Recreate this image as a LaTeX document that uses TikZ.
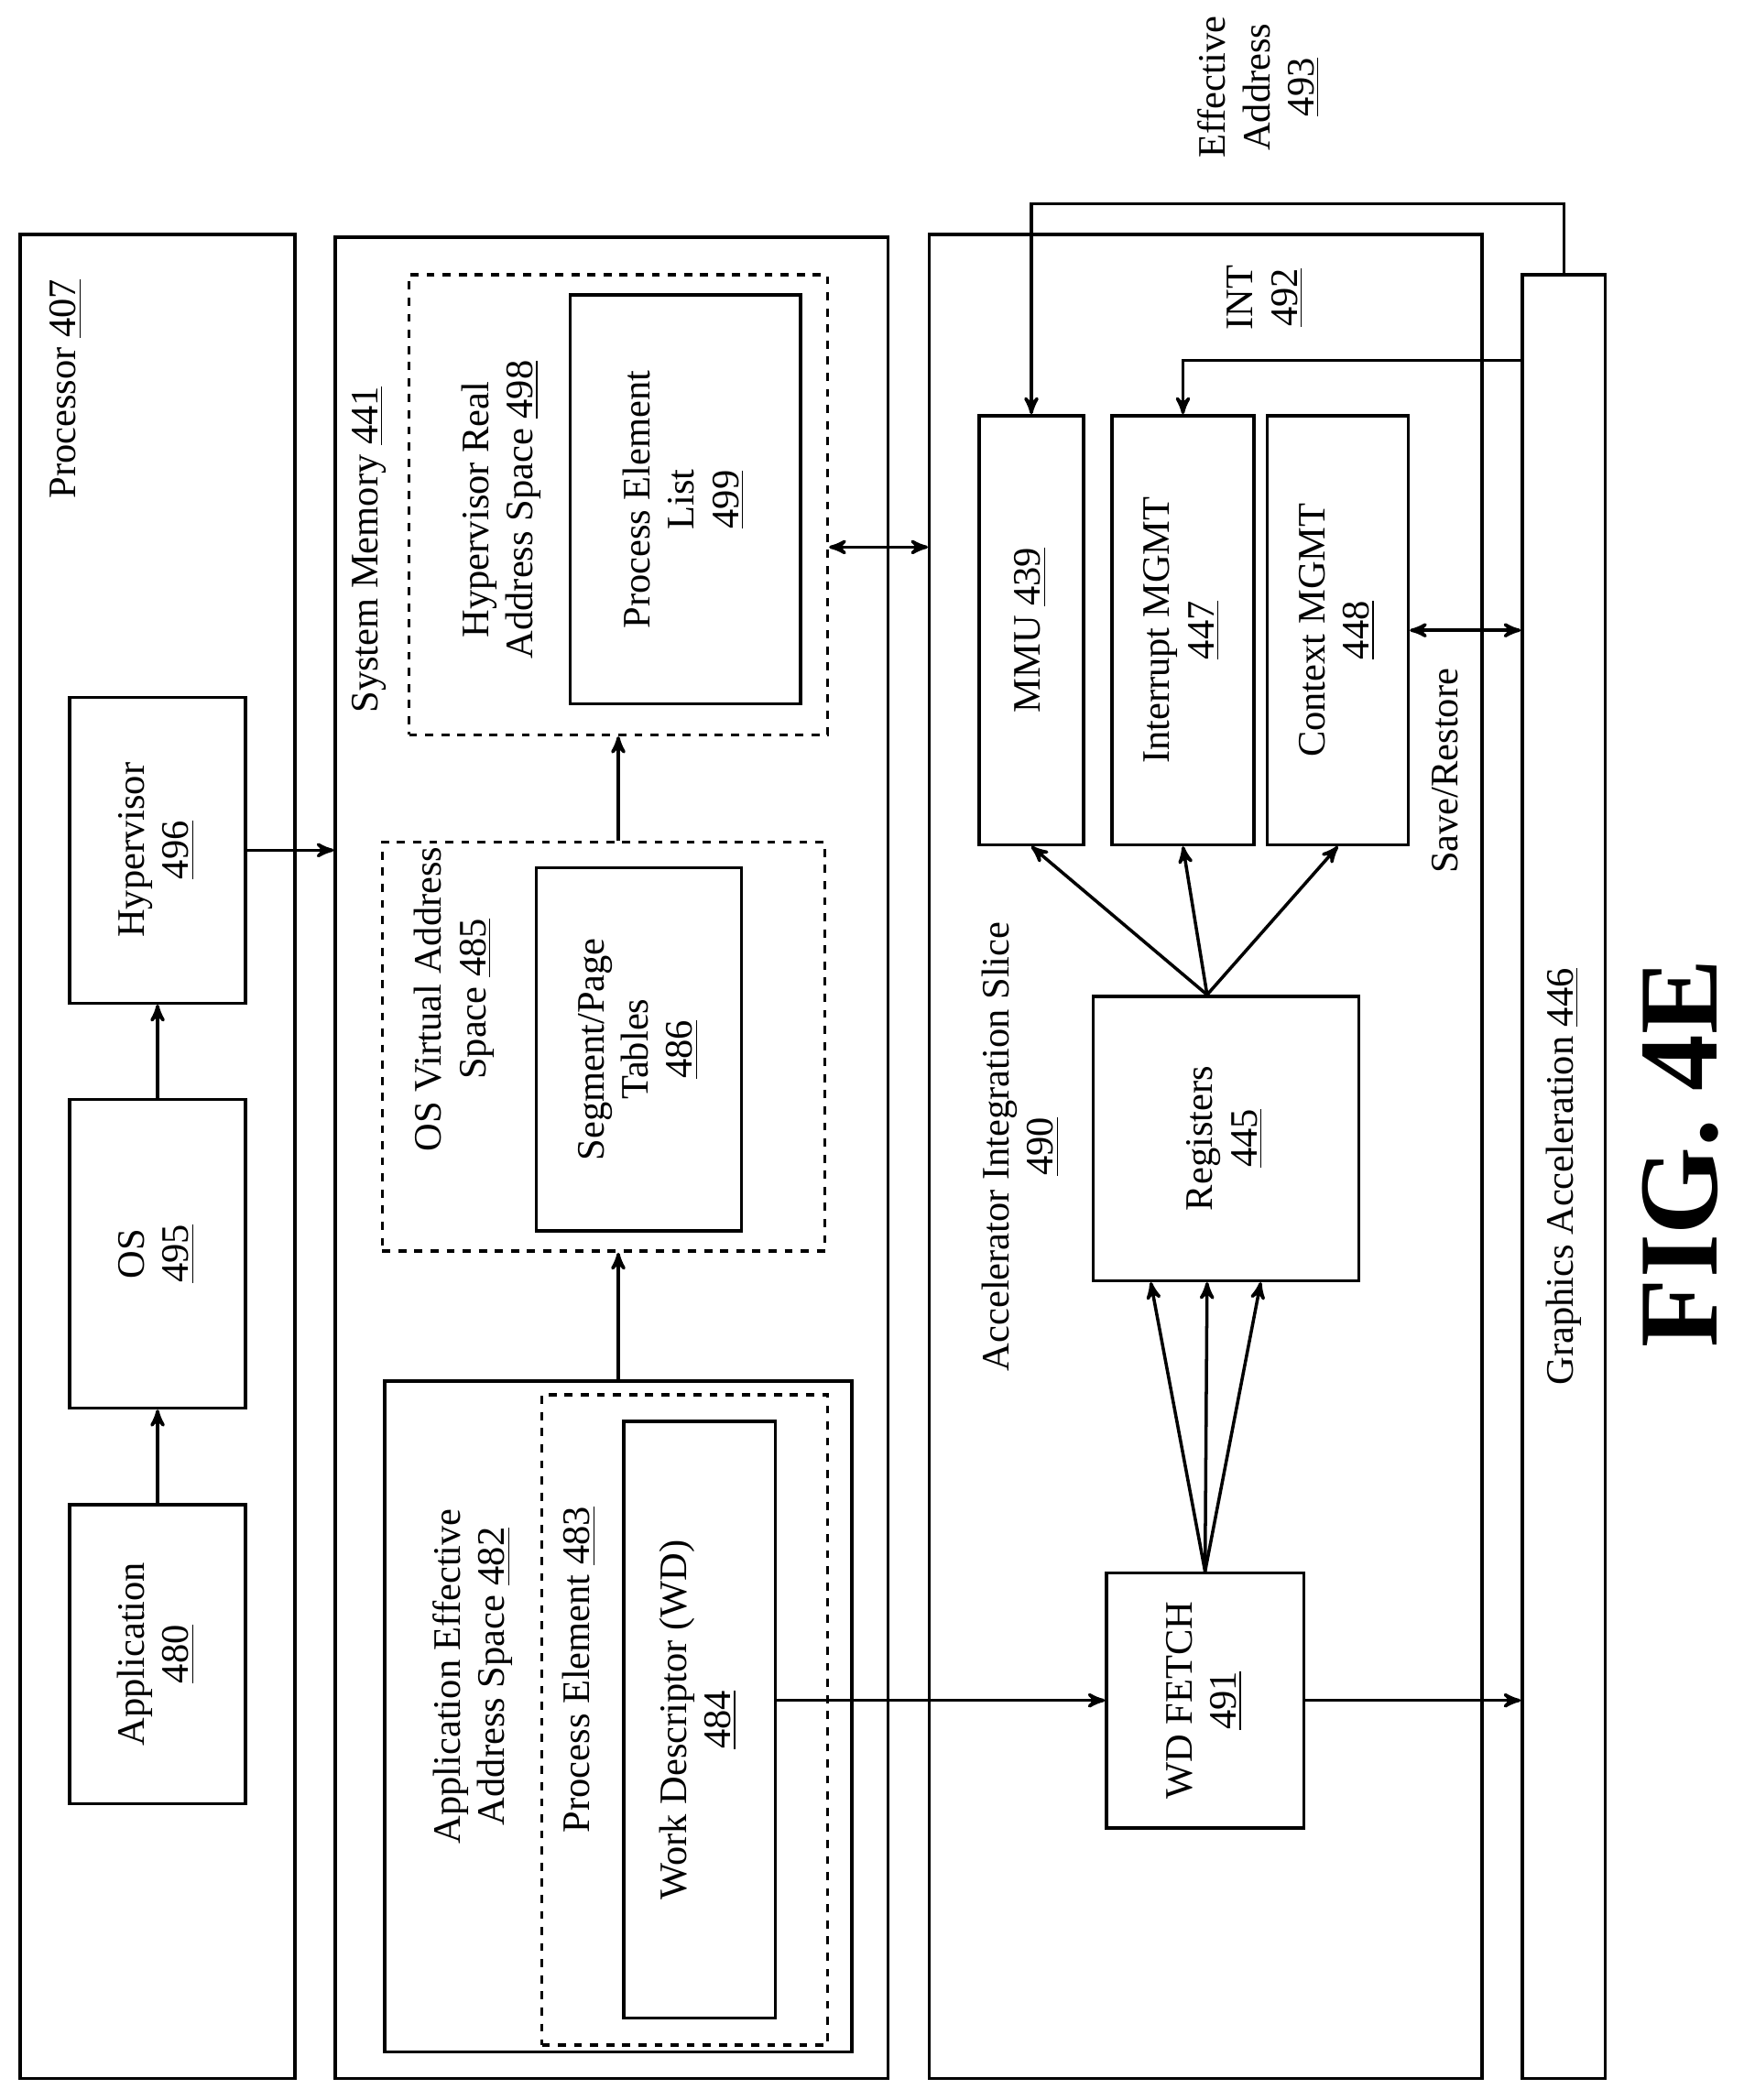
\documentclass[tikz,border=0pt]{standalone}
\usepackage{fontspec}
\setmainfont{Liberation Serif}
\usetikzlibrary{arrows,calc}
\newcommand{\rt}[1]{\rotatebox{90}{\begin{tabular}{@{}c@{}}#1\end{tabular}}}
\begin{document}
\begin{tikzpicture}[x=0.5pt, y=-0.5pt, >=stealth', line width=1.2pt, font=\fontsize{14.5}{16.5}\selectfont,
  box/.style={draw, rectangle, inner sep=0pt},
  dbox/.style={draw, rectangle, dashed, inner sep=0pt},
  lbl/.style={inner sep=0pt}]
\useasboundingbox (0,0) rectangle (1300,1566);
% processor
\node[box, minimum width=102.5pt, minimum height=687.5pt] (proc) at (117.5,862.5) {};
\node[lbl] (proclbl) at (50,290) {\rt{Processor \underline{407}}};
\node[box, minimum width=65.5pt, minimum height=111.5pt] (app) at (117.5,1233.5) {\rt{Application\\\underline{480}}};
\node[box, minimum width=65.5pt, minimum height=115pt] (os) at (117.5,935) {\rt{OS\\\underline{495}}};
\node[box, minimum width=65.5pt, minimum height=114pt] (hyp) at (117.5,634) {\rt{Hypervisor\\\underline{496}}};
% system memory
\node[box, minimum width=206pt, minimum height=686.5pt] (mem) at (456,863.5) {};
\node[lbl] (memlbl) at (275,410) {\rt{System Memory \underline{441}}};
\node[dbox, minimum width=156pt, minimum height=171.5pt] (hrs) at (461,376.5) {};
\node[lbl] (hrslbl) at (374,380) {\rt{Hypervisor Real\\Address Space \underline{498}}};
\node[box, minimum width=86pt, minimum height=152.5pt] (pel) at (511,372.5) {\rt{Process Element\\List\\\underline{499}}};
\node[dbox, minimum width=165pt, minimum height=152.5pt] (osv) at (450,780.5) {};
\node[lbl] (osvlbl) at (339,745) {\rt{OS Virtual Address\\Space \underline{485}}};
\node[box, minimum width=76.5pt, minimum height=135.5pt] (seg) at (476.5,782.5) {\rt{Segment/Page\\Tables\\\underline{486}}};
\node[box, minimum width=174pt, minimum height=250pt] (aes) at (461,1280) {};
\node[lbl] (aeslbl) at (353,1250) {\rt{Application Effective\\Address Space \underline{482}}};
\node[dbox, minimum width=106.5pt, minimum height=242.5pt] (pe) at (510.5,1282.5) {};
\node[lbl] (pelbl) at (433,1245) {\rt{Process Element \underline{483}}};
\node[box, minimum width=56.5pt, minimum height=222.5pt] (wd) at (521.5,1282.5) {\rt{Work Descriptor (WD)\\\underline{484}}};
% accelerator integration slice
\node[box, minimum width=206pt, minimum height=687.5pt] (ais) at (899,862.5) {};
\node[lbl] (aislbl) at (762,855) {\rt{Accelerator Integration Slice\\\underline{490}}};
\node[box, minimum width=39pt, minimum height=160pt] (mmu) at (769,470) {\rt{MMU \underline{439}}};
\node[box, minimum width=53pt, minimum height=160pt] (imgmt) at (882,470) {\rt{Interrupt MGMT\\\underline{447}}};
\node[box, minimum width=52.5pt, minimum height=160pt] (cmgmt) at (997.5,470) {\rt{Context MGMT\\\underline{448}}};
\node[box, minimum width=99pt, minimum height=106pt] (reg) at (914,849) {\rt{Registers\\\underline{445}}};
\node[box, minimum width=73.5pt, minimum height=95pt] (wdf) at (898.5,1268) {\rt{WD FETCH\\\underline{491}}};
\node[box, minimum width=31pt, minimum height=672.5pt] (gfx) at (1166,877.5) {\rt{Graphics Acceleration \underline{446}}};
\node[lbl] (savelbl) at (1080,575) {\rt{Save/Restore}};
\node[lbl] (intlbl) at (944,222) {\rt{INT\\\underline{492}}};
\node[lbl] (ealbl) at (940,65) {\rt{Effective\\Address\\\underline{493}}};
\node[lbl, font=\fontsize{42}{46}\selectfont\bfseries] (fig) at (1262,860) {\rt{FIG. 4E}};
% connectors
\draw[->] (app.north) -- (os.south);
\draw[->] (os.north) -- (hyp.south);
\draw[->] (hyp.east) -- (hyp.east -| mem.west);
\draw[->] (aes.north) -- (aes.north |- osv.south);
\draw[->] (aes.north |- osv.north) -- (aes.north |- hrs.south);
\draw[<->] ([yshift=-15.75pt]hrs.east) -- ([yshift=-15.75pt]hrs.east -| ais.west);
\draw[<->] (cmgmt.east) -- (cmgmt.east -| gfx.west);
\draw[->] (wdf.west -| wd.east) -- (wdf.west);
\draw[->] (wdf.east) -- (wdf.east -| gfx.west);
\draw[->] (gfx.north) -- ++(0,-52) -| (mmu.north);
\draw[->] ([yshift=-32.5pt]gfx.north west) -| (imgmt.north);
\draw[->] ([xshift=-7pt]reg.north) -- (mmu.south);
\draw[->] ([xshift=-7pt]reg.north) -- (imgmt.south);
\draw[->] ([xshift=-7pt]reg.north) -- (cmgmt.south);
\draw[->] (wdf.north) -- ([xshift=-28pt]reg.south);
\draw[->] (wdf.north) -- ([xshift=-7pt]reg.south);
\draw[->] (wdf.north) -- ([xshift=13pt]reg.south);
\end{tikzpicture}
\end{document}
